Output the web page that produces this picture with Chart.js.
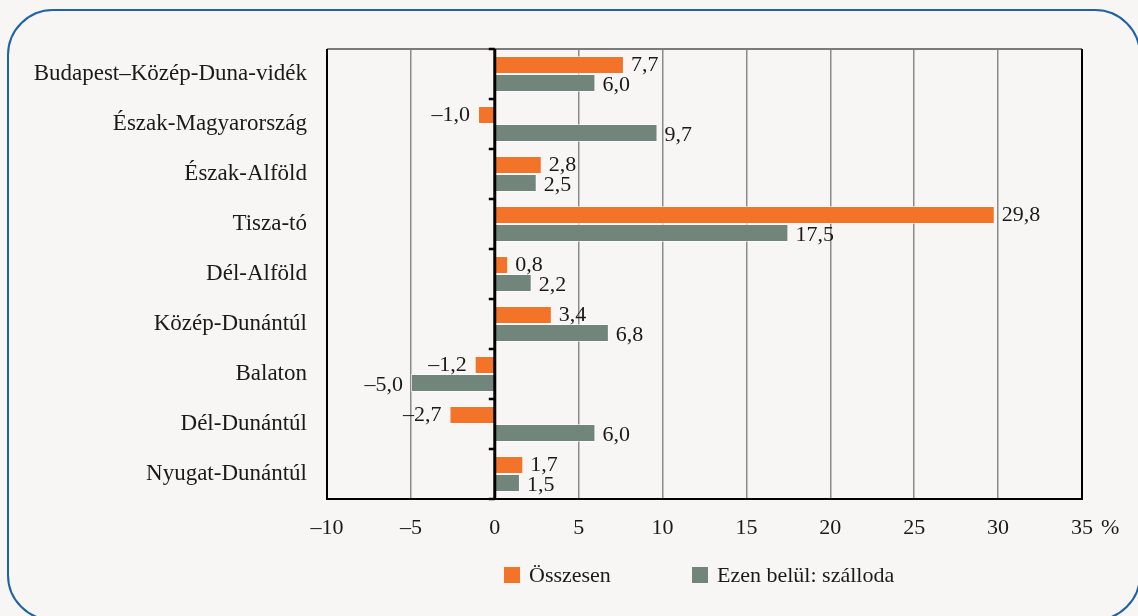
<!DOCTYPE html>
<html>
<head>
<meta charset="utf-8">
<script src="https://cdn.jsdelivr.net/npm/chart.js@4.4.1/dist/chart.umd.min.js"></script>
<style>
    html, body {
        margin: 0;
        padding: 0;
        background: #f7f6f4;
        overflow: hidden;
    }
    .frame {
        position: absolute;
        left: 7px;
        top: 9px;
        width: 1134px;
        height: 612px;
        border: 2px solid #1f63a5;
        border-radius: 46px;
        box-sizing: border-box;
    }
    #chart {
        position: absolute;
        left: 0;
        top: 0;
    }
</style>
</head>
<body>
<div class="frame"></div>
<canvas id="chart" width="1138" height="616"></canvas>
<script>
const regions = [
    'Budapest–Közép-Duna-vidék', 'Észak-Magyarország', 'Észak-Alföld', 'Tisza-tó',
    'Dél-Alföld', 'Közép-Dunántúl', 'Balaton', 'Dél-Dunántúl', 'Nyugat-Dunántúl'
];
const totalValues = [7.7, -1.0, 2.8, 29.8, 0.8, 3.4, -1.2, -2.7, 1.7];
const hotelValues = [6.0, 9.7, 2.5, 17.5, 2.2, 6.8, -5.0, 6.0, 1.5];
const xTicks = [-10, -5, 0, 5, 10, 15, 20, 25, 30, 35];

const fontFamily = "'Liberation Serif', 'Times New Roman', serif";
const fontSize = 22;
const textColor = '#1a1a1a';
const orange = '#f37328';
const gray = '#71857a';

const fmt = (v) => v.toFixed(1).replace('.', ',').replace('-', '–');

// zero line, frame of the plot, labels on the bars, unit and legend
const decorations = {
    id: 'decorations',
    afterDatasetsDraw(chart) {
        const ctx = chart.ctx;
        const area = chart.chartArea;
        const xScale = chart.scales.x;
        const yScale = chart.scales.y;
        const x0 = xScale.getPixelForValue(0);

        ctx.save();
        // plot border
        ctx.strokeStyle = '#7a7a7a';
        ctx.lineWidth = 2;
        ctx.beginPath();
        ctx.moveTo(area.left, area.top);
        ctx.lineTo(area.right, area.top);
        ctx.stroke();
        ctx.strokeStyle = '#000';
        ctx.beginPath();
        ctx.moveTo(area.left, area.top);
        ctx.lineTo(area.left, area.bottom);
        ctx.lineTo(area.right, area.bottom);
        ctx.lineTo(area.right, area.top);
        ctx.stroke();

        // zero axis with category tick marks
        ctx.lineWidth = 3;
        ctx.beginPath();
        ctx.moveTo(x0, area.top);
        ctx.lineTo(x0, area.bottom);
        ctx.stroke();
        ctx.lineWidth = 2.5;
        for (let i = 0; i <= regions.length; i++) {
            const y = Math.round(yScale.getPixelForValue(i - 0.5));
            ctx.beginPath();
            ctx.moveTo(x0 - 6, y);
            ctx.lineTo(x0, y);
            ctx.stroke();
        }

        // value labels
        ctx.font = fontSize + 'px ' + fontFamily;
        ctx.fillStyle = textColor;
        ctx.textBaseline = 'middle';
        chart.data.datasets.forEach((ds, di) => {
            const meta = chart.getDatasetMeta(di);
            const dy = di === 0 ? 0 : 2;
            meta.data.forEach((bar, i) => {
                const v = ds.data[i];
                if (v >= 0) {
                    ctx.textAlign = 'left';
                    ctx.fillText(fmt(v), bar.x + 7, bar.y + dy);
                } else {
                    ctx.textAlign = 'right';
                    ctx.fillText(fmt(v), bar.x - 8, bar.y + dy);
                }
            });
        });

        // unit
        ctx.textAlign = 'left';
        ctx.fillText('%', area.right + 19, 528);

        // legend
        const legendX = [504, 692];
        chart.data.datasets.forEach((ds, di) => {
            ctx.fillStyle = ds.backgroundColor;
            ctx.fillRect(legendX[di], 567, 16, 16);
            ctx.fillStyle = textColor;
            ctx.fillText(ds.label, legendX[di] + 25, 576);
        });
        ctx.restore();
    }
};

new Chart(document.getElementById('chart'), {
    type: 'bar',
    data: {
        labels: regions,
        datasets: [
            {
                label: 'Összesen',
                data: totalValues,
                backgroundColor: orange,
                borderColor: 'rgba(255, 255, 255, 0.6)',
                borderWidth: 1,
                categoryPercentage: 0.72,
                barPercentage: 1.0
            },
            {
                label: 'Ezen belül: szálloda',
                data: hotelValues,
                backgroundColor: gray,
                borderColor: 'rgba(255, 255, 255, 0.6)',
                borderWidth: 1,
                categoryPercentage: 0.72,
                barPercentage: 1.0
            }
        ]
    },
    options: {
        indexAxis: 'y',
        responsive: false,
        animation: false,
        layout: {
            padding: { top: 49, right: 56, bottom: 0, left: 0 }
        },
        scales: {
            x: {
                min: -10,
                max: 35,
                afterBuildTicks: (scale) => {
                    scale.ticks = xTicks.map(v => ({ value: v }));
                },
                afterFit: (scale) => {
                    scale.height = 117;
                },
                border: { display: false },
                grid: {
                    drawTicks: false,
                    lineWidth: 1.5,
                    color: (c) => {
                        const v = c.tick ? c.tick.value : null;
                        return (v === 0 || v === -10 || v === 35) ? 'rgba(0,0,0,0)' : '#8a8a8a';
                    }
                },
                ticks: {
                    padding: 16,
                    color: textColor,
                    font: { family: fontFamily, size: fontSize },
                    callback: (v) => String(v).replace('-', '–')
                }
            },
            y: {
                afterFit: (scale) => {
                    scale.width = 327;
                },
                border: { display: false },
                grid: { display: false, drawTicks: false },
                ticks: {
                    padding: 20,
                    color: textColor,
                    font: { family: fontFamily, size: 23 }
                }
            }
        },
        plugins: {
            legend: { display: false },
            tooltip: { enabled: false }
        }
    },
    plugins: [decorations]
});
</script>
</body>
</html>
